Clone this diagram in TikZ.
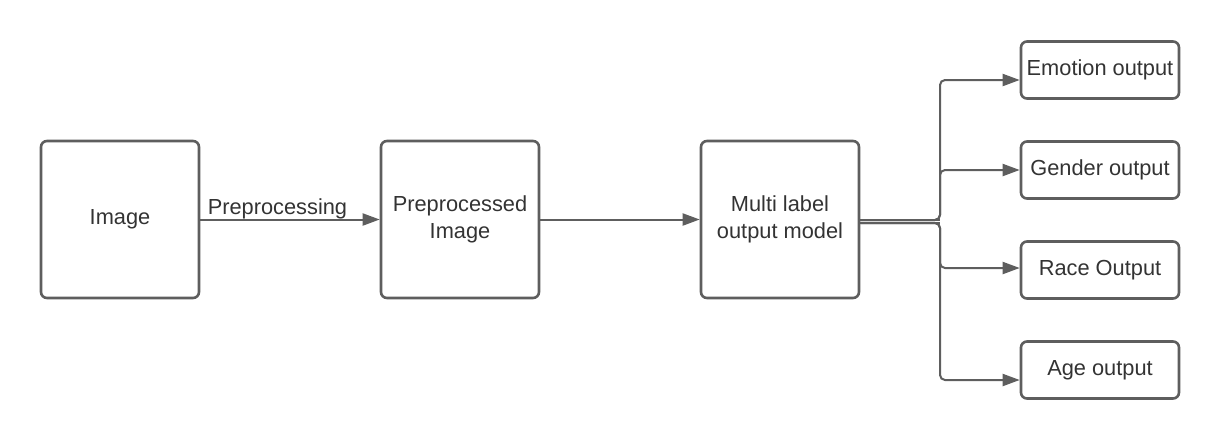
\documentclass[tikz,border=0pt]{standalone}
\usepackage{fontspec}
\setmainfont{Liberation Sans}
\usetikzlibrary{arrows.meta}
\definecolor{linegray}{HTML}{5E5E5E}
\definecolor{textgray}{HTML}{333333}
\begin{document}
\begin{tikzpicture}[x=1pt,y=-1pt,
  box/.style={draw=linegray,line width=2.6pt,rounded corners=6pt,minimum width=158pt,minimum height=157pt,align=center,text=textgray,font=\fontsize{21.8}{26.5}\selectfont,inner sep=0pt},
  outbox/.style={box,minimum height=57pt},
  conn/.style={draw=linegray,line width=2pt,-{Triangle[length=17pt,width=12pt]}},
  plainconn/.style={draw=linegray,line width=2pt}]
\useasboundingbox (0,0) rectangle (1220,440);
\node[box] (img) at (120,219.5) {Image};
\node[box] (pre) at (460,219.5) {Preprocessed\\Image};
\node[box] (mlm) at (780,219.5) {Multi label\\output model};
\node[outbox] (emo) at (1100,70) {Emotion output};
\node[outbox] (gen) at (1100,170) {Gender output};
\node[outbox] (race) at (1100,270) {Race Output};
\node[outbox] (age) at (1100,370) {Age output};
\draw[conn] (img.east |- 0,219.5) -- node[pos=0.43,anchor=base,yshift=5pt,text=textgray,font=\fontsize{21.8}{26}\selectfont,inner sep=0pt]{Preprocessing} (pre.west |- 0,219.5);
\draw[conn] (pre.east |- 0,219.5) -- (mlm.west |- 0,219.5);
\coordinate (ju) at (940,220);
\coordinate (jd) at (940,223);
\draw[plainconn] (mlm.east |- ju) -- (ju);
\draw[plainconn] (mlm.east |- jd) -- (jd);
\draw[conn,rounded corners=5pt] (mlm.east |- ju) -- (ju) -- (ju |- 0,80) -- (emo.west |- 0,80);
\draw[conn,rounded corners=5pt] (mlm.east |- ju) -- (ju) -- (ju |- gen.west) -- (gen.west);
\draw[conn,rounded corners=5pt] (mlm.east |- jd) -- (jd) -- (jd |- 0,268) -- (race.west |- 0,268);
\draw[conn,rounded corners=5pt] (mlm.east |- jd) -- (jd) -- (jd |- 0,380) -- (age.west |- 0,380);
\end{tikzpicture}
\end{document}
